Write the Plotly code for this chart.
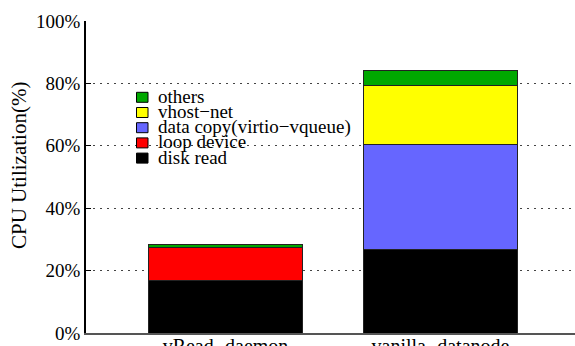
import plotly.graph_objects as go

categories = ["vRead\u2212daemon", "vanilla\u2212datanode"]
disk_read = [16.7, 26.8]
loop_device = [10.8, 0.0]
data_copy = [0.0, 33.6]
vhost_net = [0.0, 18.8]
others = [1.0, 5.0]

series = [
    ("disk read", disk_read, "#000000"),
    ("loop device", loop_device, "#ff0000"),
    ("data copy(virtio\u2212vqueue)", data_copy, "#6666ff"),
    ("vhost\u2212net", vhost_net, "#ffff00"),
    ("others", others, "#00a800"),
]

W, H = 575, 346
ML, MR, MT, MB = 86, 0, 21, 13
PW, PH = W - ML - MR, H - MT - MB

def dom_x(px):
    return (px - ML) / PW

def dom_y(py):
    return (H - MB - py) / PH

fig = go.Figure()
for name, vals, color in series:
    fig.add_trace(go.Bar(
        x=list(range(len(categories))), y=vals, name=name,
        width=0.72, showlegend=False,
        marker=dict(color=color, line=dict(color="#222222", width=1)),
    ))

font_family = "Liberation Serif"

# compact key: small squares with labels, stacked top to bottom
key_top, key_step = 97.3, 15.2
for i, (name, _, color) in enumerate(reversed(series)):
    cy = key_top + i * key_step
    fig.add_shape(
        type="rect", xref="x domain", yref="y domain",
        x0=dom_x(136.5), x1=dom_x(148), y0=dom_y(cy + 5), y1=dom_y(cy - 5),
        fillcolor=color, line=dict(color="black", width=1),
    )
    fig.add_annotation(
        xref="x domain", yref="y domain", x=dom_x(157), y=dom_y(cy - 1),
        text=name, showarrow=False, xanchor="left", yanchor="middle",
        font=dict(family=font_family, size=19, color="black"),
        borderpad=0,
    )

# vertical axis caption
fig.add_annotation(
    xref="paper", yref="paper", x=dom_x(19), y=dom_y(166),
    text="CPU Utilization(%)", textangle=-90, showarrow=False,
    xanchor="center", yanchor="middle",
    font=dict(family=font_family, size=21, color="black"),
)

fig.update_layout(
    barmode="stack",
    width=W, height=H,
    margin=dict(l=ML, r=MR, t=MT, b=MB),
    paper_bgcolor="white", plot_bgcolor="white",
    font=dict(family=font_family, size=18, color="black"),
    showlegend=False,
    xaxis=dict(
        tickmode="array", tickvals=[0, 1], ticktext=categories,
        range=[-0.649, 1.626], automargin=False,
        showline=True, linecolor="#555555", linewidth=2,
        showgrid=False, ticks="", zeroline=False,
        ticklabelstandoff=-6,
        tickfont=dict(family=font_family, size=20),
    ),
    yaxis=dict(
        range=[0, 100], automargin=False,
        tickvals=[0, 20, 40, 60, 80, 100],
        ticktext=["0%", "20%", "40%", "60%", "80%", "100%"],
        showline=True, linecolor="black", linewidth=1.5,
        ticks="inside", ticklen=5, tickcolor="black",
        showgrid=True, gridcolor="#444444", gridwidth=1,
        griddash="2px,5px", zeroline=False,
        tickfont=dict(family=font_family, size=19),
    ),
)

fig.write_html("out.html")
